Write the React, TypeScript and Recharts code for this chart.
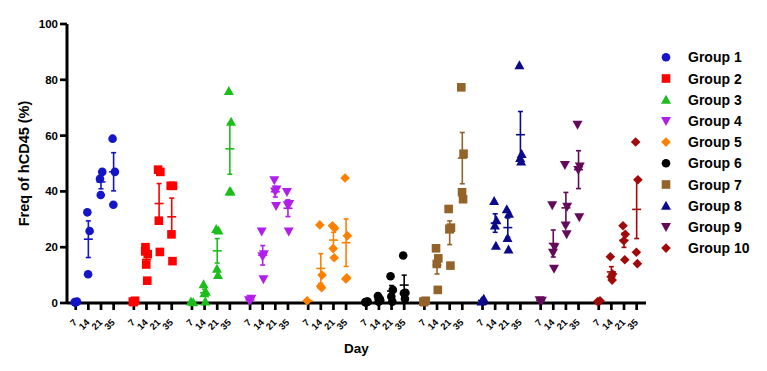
import { ErrorBar, Label, Scatter, ScatterChart, XAxis, YAxis } from "recharts";

const DAYS = ["7", "14", "21", "35"];
const GROUP_NAMES = ["Group 1", "Group 2", "Group 3", "Group 4", "Group 5", "Group 6", "Group 7", "Group 8", "Group 9", "Group 10"];
const Y_TICKS = [0, 20, 40, 60, 80, 100];

// values per day (7, 14, 21, 35), % hCD45
const group1 = [[0.3, 0.5, 0.2], [32.5, 25.8, 10.3], [44.5, 47, 38.7], [58.9, 47, 35.2]];
const group2 = [[0.5, 0.8, 0.3], [20, 17.5, 13.8, 8, 18.5], [47.8, 47, 29.5, 18.3], [42, 42, 24.6, 15]];
const group3 = [[0.5, 0.3], [6.7, 4, 3.5, 0.5], [26.5, 26, 12.3, 10], [76, 65, 40, 40]];
const group4 = [[1, 1.5, 0.8], [25.6, 17.5, 16.8, 8.5], [44, 40.7, 40, 34.8], [39.8, 35.5, 35, 25.6]];
const group5 = [[0.8], [28, 10, 6, 5.5], [27.7, 26.8, 19.5, 16.2], [44.8, 24.1, 8.6, 9]];
const group6 = [[0.3, 0.5, 0.2, 0.4], [2.5, 1, 0.5, 1.5], [9.6, 4.7, 2.3, 0.5], [17, 3.7, 3.5, 1.5]];
const group7 = [[0.5, 0.8, 0.3], [19.6, 16, 14, 4.7], [33.7, 27, 26.6, 13.4], [77.3, 53.5, 39.7, 37.2]];
const group8 = [[0.5, 1.5, 0.8], [36.6, 29.7, 27.8, 20.5], [33.6, 32, 23.3, 19.2], [85.2, 53.4, 52, 50.7]];
const group9 = [[1, 0.8], [35, 20, 18, 12.3], [49.5, 34.5, 27.8, 24.6], [63.9, 48.9, 47.7, 30.7]];
const group10 = [[0.5, 0.8], [16.6, 10.4, 9.4, 8.2], [27.7, 24.6, 22.3, 15.5], [57.7, 44.2, 18.2, 14.1]];

const GROUPS = [group1, group2, group3, group4, group5, group6, group7, group8, group9, group10];
const COLORS = ["#1414C8", "#FF0000", "#1CBE1C", "#B21EEB", "#FF8000", "#000000", "#94632A", "#0A0A8A", "#640A5A", "#A00A0A"];
const SHAPES = ["circle", "square", "up", "down", "diamond", "circle", "square", "up", "down", "diamond"];

const GROUP_STEP = 4.6;
const JITTER = [-0.08, 0.1, -0.02, 0.06, -0.1];
const FONT = "'Liberation Sans', Arial, sans-serif";

const xPos = (g: number, d: number) => g * GROUP_STEP + d;

const mean = (v: number[]) => v.reduce((a, b) => a + b, 0) / v.length;
const sem = (v: number[]) => {
  if (v.length < 2) return 0;
  const m = mean(v);
  const sd = Math.sqrt(v.reduce((a, b) => a + (b - m) ** 2, 0) / (v.length - 1));
  return sd / Math.sqrt(v.length);
};

const TICKS = GROUPS.flatMap((_, g) => DAYS.map((__, d) => xPos(g, d)));

const Marker = ({ cx, cy, shape, color }: { cx: number; cy: number; shape: string; color: string }) => {
  if (shape === "circle") return <circle cx={cx} cy={cy} r={4.3} fill={color} />;
  if (shape === "square") return <rect x={cx - 4.3} y={cy - 4.3} width={8.6} height={8.6} fill={color} />;
  if (shape === "up")
    return <polygon points={`${cx},${cy - 5} ${cx + 5},${cy + 4} ${cx - 5},${cy + 4}`} fill={color} />;
  if (shape === "down")
    return <polygon points={`${cx},${cy + 5} ${cx + 5},${cy - 4} ${cx - 5},${cy - 4}`} fill={color} />;
  return <polygon points={`${cx},${cy - 4.8} ${cx + 4.8},${cy} ${cx},${cy + 4.8} ${cx - 4.8},${cy}`} fill={color} />;
};

const DayTick = ({ x, y, payload }: any) => {
  const idx = TICKS.findIndex((t) => Math.abs(t - payload.value) < 1e-6);
  const label = DAYS[idx % 4];
  const ax = x + 2;
  const ay = y + 12;
  return (
    <text
      x={ax}
      y={ay}
      transform={`rotate(-45 ${ax} ${ay})`}
      textAnchor="end"
      fontSize={9.5}
      fontWeight="bold"
      fontFamily={FONT}
      fill="#000"
    >
      {label}
    </text>
  );
};

export default function App() {
  const pointSeries = GROUPS.map((days, g) =>
    days.flatMap((vals, d) => vals.map((v, i) => ({ x: xPos(g, d) + JITTER[i % JITTER.length], y: v })))
  );
  const meanSeries = GROUPS.map((days, g) =>
    days.map((vals, d) => ({ x: xPos(g, d), y: mean(vals), sem: sem(vals) }))
  );

  return (
    <div style={{ position: "relative", width: 759, height: 363 }}>
      <ScatterChart width={759} height={363} margin={{ top: 16, right: 121, bottom: 18, left: 0 }}>
        <XAxis
          type="number"
          dataKey="x"
          domain={[-0.69, 45.14]}
          ticks={TICKS}
          interval={0}
          tick={<DayTick />}
          tickSize={7}
          tickMargin={1}
          height={50}
          axisLine={{ stroke: "#000", strokeWidth: 3 }}
          tickLine={{ stroke: "#000", strokeWidth: 2.7 }}
        >
          <Label
            content={({ viewBox }: any) => (
              <text
                x={viewBox.x + viewBox.width / 2}
                y={viewBox.y + 45}
                textAnchor="middle"
                dominantBaseline="central"
                fontSize={13.5}
                fontWeight="bold"
                fontFamily={FONT}
              >
                Day
              </text>
            )}
          />
        </XAxis>
        <YAxis
          type="number"
          dataKey="y"
          domain={[0, 100]}
          ticks={Y_TICKS}
          width={59}
          tickSize={7}
          tickMargin={2}
          tick={{ fontSize: 11.5, fontWeight: "bold", fill: "#000", fontFamily: FONT }}
          axisLine={{ stroke: "#000", strokeWidth: 3 }}
          tickLine={{ stroke: "#000", strokeWidth: 2.7 }}
        >
          <Label
            content={({ viewBox }: any) => {
              const cx = viewBox.x + 16;
              const cy = viewBox.y + viewBox.height / 2;
              return (
                <text
                  x={cx}
                  y={cy}
                  transform={`rotate(-90 ${cx} ${cy})`}
                  textAnchor="middle"
                  dominantBaseline="central"
                  fontSize={14.5}
                  fontWeight="bold"
                  fontFamily={FONT}
                >
                  Freq of hCD45 (%)
                </text>
              );
            }}
          />
        </YAxis>
        {pointSeries.map((data, g) => (
          <Scatter
            key={`pts-${g}`}
            data={data}
            isAnimationActive={false}
            shape={(p: any) => <Marker cx={p.cx} cy={p.cy} shape={SHAPES[g]} color={COLORS[g]} />}
          />
        ))}
        {meanSeries.map((data, g) => (
          <Scatter
            key={`mean-${g}`}
            data={data}
            isAnimationActive={false}
            shape={(p: any) => (
              <line x1={p.cx - 4.5} x2={p.cx + 4.5} y1={p.cy} y2={p.cy} stroke={COLORS[g]} strokeWidth={1.6} />
            )}
          >
            <ErrorBar dataKey="sem" direction="y" width={2.5} stroke={COLORS[g]} strokeWidth={1.6} />
          </Scatter>
        ))}
      </ScatterChart>
      <svg style={{ position: "absolute", left: 640, top: 36 }} width={119} height={230}>
        {GROUP_NAMES.map((name, g) => {
          const cy = 13.3 + g * 21.2;
          return (
            <g key={name}>
              <Marker cx={18} cy={cy} shape={SHAPES[g]} color={COLORS[g]} />
              <text x={40} y={cy + 5} fontSize={14} fontWeight="bold" fontFamily={FONT} fill="#000">
                {name}
              </text>
            </g>
          );
        })}
      </svg>
    </div>
  );
}
